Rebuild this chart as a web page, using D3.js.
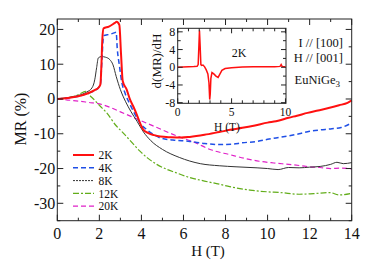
<!DOCTYPE html>
<html><head><meta charset="utf-8">
<script src="https://cdn.jsdelivr.net/npm/d3@7"></script>
<style>body{margin:0;background:#fff}svg{display:block}text{font-family:"Liberation Serif","DejaVu Serif",serif;fill:#111}</style>
</head><body>
<script>
const H2K=[0,0.5,1.0,1.4,1.8,1.95,2.05,2.1,2.14,2.2,2.45,2.74,2.82,2.95,3.03,3.11,3.3,3.46,3.61,3.78,3.9,4.09,4.33,4.6,4.9,5.4,5.9,6.3,7.0,7.7,8.3,8.8,9.4,10.0,10.4,11.0,11.4,11.9,12.4,12.9,13.4,13.8,14.0];
const MR2K=[0,0.3,0.8,1.5,2.6,3.2,4.2,10,17,20.3,20.8,21.9,22.2,21.3,13,5.2,2.7,-0.2,-2.1,-4.5,-6.4,-8.8,-9.8,-10.4,-10.8,-11.0,-11.1,-10.9,-10.3,-9.5,-8.8,-8.3,-7.6,-6.8,-6.4,-5.4,-4.8,-4.0,-3.3,-2.6,-1.8,-1.1,-0.4];
const H4K=[0,0.5,1.0,1.4,1.8,1.95,2.05,2.12,2.2,2.5,2.7,2.8,2.85,2.95,3.06,3.22,3.46,3.7,3.93,4.25,4.6,4.9,5.5,6.3,7.0,7.7,8.3,8.8,9.5,10.0,10.4,11.0,11.5,12.0,12.5,13.0,13.5,14.0];
const MR4K=[0,0.3,0.8,1.5,2.5,3.2,4.3,11,18.2,18.6,19.0,19.2,14.6,9.8,5.0,1.7,-1.6,-4.5,-6.9,-8.8,-10.3,-11.2,-11.8,-12.2,-12.8,-13.1,-13.0,-12.6,-12.2,-11.6,-11.2,-10.6,-10.0,-9.3,-8.9,-8.6,-8.2,-6.9];
const H8K=[0,0.5,1.0,1.4,1.65,1.78,1.87,1.95,2.1,2.3,2.5,2.65,2.8,3.0,3.25,3.5,3.8,4.1,4.45,5.0,5.8,6.8,7.7,8.5,9.5,10.0,10.5,11.0,11.5,12.0,12.5,13.0,13.3,13.6,14.0];
const MR8K=[0,0.4,1.0,2.0,3.2,5.5,9,11.8,12.2,12.0,11.3,9.8,6.5,2.7,-0.8,-3.6,-6.5,-9.5,-12,-14.5,-16.8,-18.6,-19.2,-19.5,-19.8,-20.0,-20.3,-19.7,-19.8,-19.6,-19.4,-18.8,-18.2,-18.6,-18.3];
const H12K=[0,0.5,1.0,1.35,1.55,1.8,2.0,2.35,2.8,3.14,3.5,3.93,4.3,4.73,5.2,5.6,6.3,7.0,7.7,8.2,9.16,10.0,10.6,11.5,12.2,12.96,13.4,14.0];
const MR12K=[0,0.3,1.2,2.2,1.0,-0.5,-1.8,-4.0,-7.7,-9.8,-12.2,-15,-17,-18.8,-20.2,-21.1,-22.6,-23.6,-24.5,-25.2,-26.2,-26.7,-26.9,-27.4,-27.2,-26.9,-27.6,-27.1];
const H20K=[0,0.5,1.0,1.5,2.0,2.5,3.0,3.5,4.0,4.5,5.0,5.8,6.5,7.3,8.2,9.0,9.6,10.3,11.0,11.6,12.0,12.5,13.0,13.5,14.0];
const MR20K=[0,-0.3,-0.6,-1.0,-1.4,-2.4,-3.7,-5.0,-6.3,-7.6,-8.9,-10.9,-12.4,-14.6,-16.0,-17.2,-17.9,-18.4,-18.8,-19.2,-19.5,-19.7,-20.0,-19.9,-20.1];
const insetH=[0,0.5,1.0,1.5,1.8,1.9,1.97,2.02,2.08,2.15,2.22,2.35,2.5,2.65,2.8,2.9,2.97,3.02,3.08,3.18,3.35,3.55,3.75,3.9,4.1,4.4,5.0,6.0,7.0,8.0,9.0,9.5,9.6,9.7,10.0];
const insetD=[0,0.05,0.1,0.15,0.2,0.6,5,8.3,5,0.6,0.4,0.5,0.1,-0.6,-1.5,-3.5,-7.3,-6,-2.5,-1.2,-1.5,-2.0,-2.3,-1.6,-0.7,-0.3,-0.1,0.05,0.1,0.1,0.1,0.2,0.6,0.15,0.1];
const seriesLabels=["2K","4K","8K","12K","20K"];
const xTickLabels=[0,2,4,6,8,10,12,14];
const yTickLabels=[-30,-20,-10,0,10,20];
const insetXTicks=[0,5,10];
const insetYTicks=[-8,-4,0,4,8];

const series=[
 {name:"2K",H:H2K,MR:MR2K,color:"#ff1010",w:2,dash:null},
 {name:"4K",H:H4K,MR:MR4K,color:"#1f4fe6",w:1.5,dash:"5,3"},
 {name:"8K",H:H8K,MR:MR8K,color:"#333",w:1,dash:null,legDash:"2,1"},
 {name:"12K",H:H12K,MR:MR12K,color:"#62ad1a",w:1.2,dash:"6,2,2,2"},
 {name:"20K",H:H20K,MR:MR20K,color:"#e020c8",w:1.2,dash:"5,3"}
];

const W=374,Ht=270;
const svg=d3.select("body").append("svg").attr("width",W).attr("height",Ht);
const L=57.3,R=351.7,T=19,B=220.7;
const x=d3.scaleLinear().domain([0,14]).range([L,R]);
const y=d3.scaleLinear().domain([-35,23]).range([B,T]);

function frameTicks(g,xs,ys,xMaj,xMin,yMaj,yMin,l,r,t,b,maj,mn){
  xMin.forEach(v=>{const len=xMaj.includes(v)?maj:mn;const px=xs(v);
    g.append("line").attr("x1",px).attr("x2",px).attr("y1",b).attr("y2",b-len);
    g.append("line").attr("x1",px).attr("x2",px).attr("y1",t).attr("y2",t+len);});
  yMin.forEach(v=>{const len=yMaj.includes(v)?maj:mn;const py=ys(v);
    g.append("line").attr("x1",l).attr("x2",l+len).attr("y1",py).attr("y2",py);
    g.append("line").attr("x1",r).attr("x2",r-len).attr("y1",py).attr("y2",py);});
  g.selectAll("line").attr("stroke","#222").attr("stroke-width",1);
}

// curves
const line=d3.line().curve(d3.curveMonotoneX);
series.slice().reverse().forEach(s=>{
  const pts=s.H.map((h,i)=>[x(h),y(s.MR[i])]);
  svg.append("path").attr("d",line(pts)).attr("fill","none").attr("stroke",s.color)
    .attr("stroke-width",s.w).attr("stroke-dasharray",s.dash);
});

// frame
svg.append("rect").attr("x",L).attr("y",T).attr("width",R-L).attr("height",B-T).attr("fill","none").attr("stroke","#222").attr("stroke-width",1);
const tg=svg.append("g");
frameTicks(tg,x,y,xTickLabels,d3.range(0,15,1),yTickLabels,d3.range(-35,25,5),L,R,T,B,6,3);

svg.append("g").selectAll("text").data(xTickLabels).join("text")
 .attr("x",d=>x(d)).attr("y",239).attr("text-anchor","middle").attr("font-size",16).text(d=>d);
svg.append("g").selectAll("text").data(yTickLabels).join("text")
 .attr("x",L-2).attr("y",d=>y(d)+5.5).attr("text-anchor","end").attr("font-size",16).text(d=>d);
svg.append("text").attr("x",208).attr("y",256).attr("text-anchor","middle").attr("font-size",15).text("H (T)");
svg.append("text").attr("transform","translate(26,119) rotate(-90)").attr("text-anchor","middle").attr("font-size",16).text("MR (%)");

// legend
seriesLabels.forEach((lab,i)=>{
  const s=series[i];const yy=155+i*12.8;
  svg.append("line").attr("x1",73).attr("x2",94).attr("y1",yy).attr("y2",yy)
    .attr("stroke",s.color).attr("stroke-width",s.w).attr("stroke-dasharray",s.legDash||s.dash);
  svg.append("text").attr("x",98.5).attr("y",yy+4.2).attr("font-size",11.5).text(lab);
});

// annotations
svg.append("text").attr("x",343).attr("y",47).attr("text-anchor","end").attr("font-size",12.5).text("I // [100]");
svg.append("text").attr("x",343).attr("y",62).attr("text-anchor","end").attr("font-size",12.5).text("H // [001]");
const eu=svg.append("text").attr("x",340).attr("y",84).attr("text-anchor","end").attr("font-size",12.5);
eu.append("tspan").text("EuNiGe");
eu.append("tspan").attr("font-size",9).attr("dy",3).text("3");

// inset
const iL=177.7,iR=286,iT=28.3,iB=103.3;
const ix=d3.scaleLinear().domain([0,10.05]).range([iL,iR]);
const iy=d3.scaleLinear().domain([-8.14,8.8]).range([iB,iT]);
svg.append("rect").attr("x",iL).attr("y",iT).attr("width",iR-iL).attr("height",iB-iT).attr("fill","#fff").attr("stroke","#222").attr("stroke-width",1);
const ipts=insetH.map((h,i)=>[ix(h),iy(insetD[i])]);
svg.append("path").attr("d",d3.line()(ipts)).attr("fill","none").attr("stroke","#ff1010").attr("stroke-width",1.5);
const ig=svg.append("g");
frameTicks(ig,ix,iy,insetXTicks,d3.range(0,11,1),insetYTicks,d3.range(-8,9,2),iL,iR,iT,iB,5,3);
svg.append("g").selectAll("text").data(insetXTicks).join("text")
 .attr("x",d=>ix(d)).attr("y",116).attr("text-anchor","middle").attr("font-size",11.5).text(d=>d);
svg.append("g").selectAll("text").data(insetYTicks).join("text")
 .attr("x",iL-2.5).attr("y",d=>iy(d)+4).attr("text-anchor","end").attr("font-size",12).text(d=>d);
svg.append("text").attr("x",227).attr("y",130.5).attr("text-anchor","middle").attr("font-size",11.5).text("H (T)");
svg.append("text").attr("transform","translate(160.5,61) rotate(-90)").attr("text-anchor","middle").attr("font-size",13).text("d(MR)/dH");
svg.append("text").attr("x",239).attr("y",57).attr("text-anchor","middle").attr("font-size",12).text("2K");
</script>
</body></html>
